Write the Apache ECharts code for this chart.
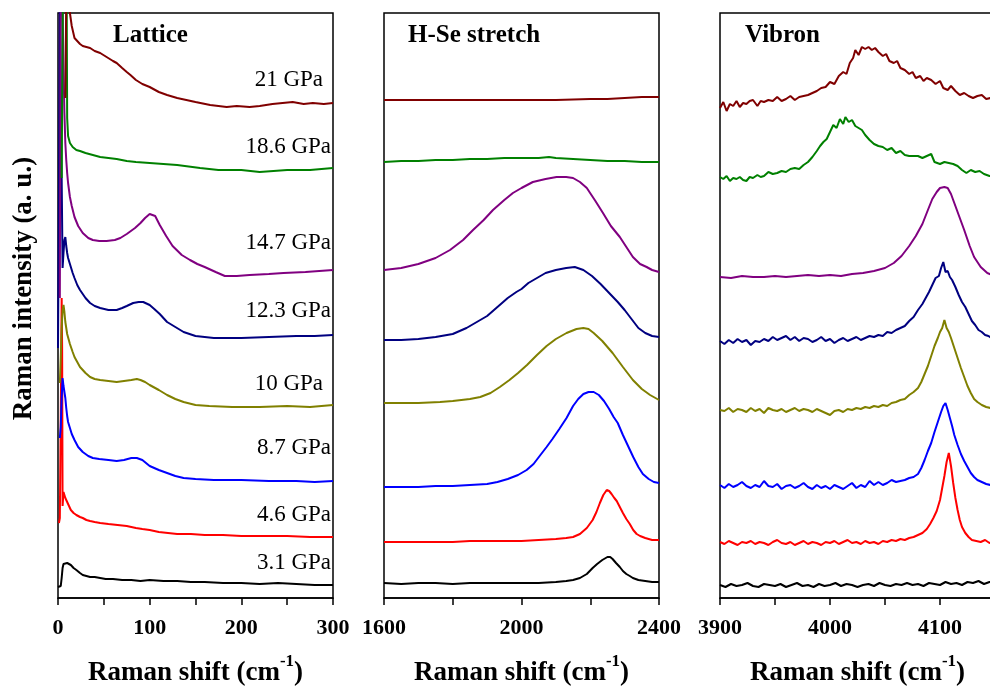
<!DOCTYPE html>
<html>
<head>
<meta charset="utf-8">
<script src="https://cdn.jsdelivr.net/npm/echarts@6/dist/echarts.min.js"></script>
<style>
  html, body { margin: 0; padding: 0; background: #fff; }
  #chart { width: 990px; height: 688px; }
</style>
</head>
<body>
<div id="chart"></div>
<script>
// Pressure steps, bottom to top, and their trace colours
const pressures = ['3.1 GPa', '4.6 GPa', '8.7 GPa', '10 GPa', '12.3 GPa', '14.7 GPa', '18.6 GPa', '21 GPa'];
const traceColors = ['#000000', '#ff0000', '#0000ff', '#808000', '#000080', '#800080', '#008000', '#800000'];
const panelTitles = ['Lattice', 'H-Se stretch', 'Vibron'];

// Labelled ticks on each Raman shift axis
const latticeTickLabels = [0, 100, 200, 300];
const stretchTickLabels = [1600, 2000, 2400];
const vibronTickLabels = [3900, 4000, 4100];

// ---- Lattice region (0-300 cm-1), stacked intensities ----
const lat31 = [[0,11],[2,11],[3,12],[4,20],[5,30],[6,34],[7,35],[8,36],[10,35],[12,34],[14,33],[17,30],[20,28],[24,25],[27,23],[31,22],[35,21],[40,21],[46,20],[52,19],[60,19],[70,18],[80,18],[90,17],[100,18],[115,17],[130,17],[145,16],[160,16],[180,15],[200,15],[220,14],[240,15],[260,14],[280,13],[300,13]];
const lat46 = [[1,75],[2,80],[3,180],[4,300],[4.5,250],[5,92],[6,106],[7,104],[8,100],[10,96],[12,92],[14,88],[17,85],[20,83],[24,81],[27,80],[31,78],[35,77],[40,76],[46,75],[55,74],[65,73],[75,72],[85,70],[92,69],[100,68],[110,66],[120,65],[130,64],[145,64],[160,63],[180,63],[200,62],[220,62],[250,62],[275,61],[300,61]];
const lat87 = [[2,160],[3,171],[4,200],[5,220],[6,212],[7,206],[8,200],[9,190],[10,182],[11,176],[13,170],[15,164],[18,158],[22,151],[27,146],[33,142],[38,140],[45,139],[55,138],[64,137],[72,138],[80,140],[86,140],[92,138],[100,132],[110,128],[119,125],[128,122],[137,120],[150,119],[170,118],[200,118],[230,117],[260,117],[280,116],[300,117]];
const lat10 = [[2,215],[3,240],[4,270],[5,288],[6,293],[7,286],[8,276],[10,264],[13,254],[16,246],[18,241],[21,236],[24,231],[30,225],[35,221],[40,219],[46,218],[55,217],[64,216],[72,217],[80,218],[86,219],[90,218],[95,216],[100,213],[110,208],[119,203],[128,199],[137,196],[150,193],[165,192],[190,191],[220,191],[250,192],[275,191],[300,193]];
const lat123 = [[0,250],[1,400],[2,620],[3,620],[4,420],[5,330],[6,345],[7,358],[8,361],[9,352],[10,345],[11,340],[13,334],[16,325],[18,320],[21,313],[24,308],[30,300],[35,295],[40,292],[46,290],[55,288],[64,288],[70,290],[75,292],[82,295],[88,296],[93,296],[100,293],[105,289],[111,284],[119,276],[128,271],[137,266],[150,262],[170,260],[200,260],[230,261],[260,262],[280,262],[300,263]];
const lat147 = [[2,300],[3,620],[4,620],[5,590],[6,530],[7,485],[8,455],[9,438],[10,425],[11,415],[13,401],[15,392],[18,381],[22,372],[27,365],[33,360],[38,358],[45,357],[53,357],[62,358],[68,360],[75,364],[84,370],[90,375],[95,380],[100,384],[102,385],[106,382],[111,373],[118,362],[125,352],[135,343],[144,338],[152,334],[160,331],[172,326],[182,322],[195,322],[209,323],[230,324],[246,325],[270,326],[300,328]];
const lat186 = [[4,420],[6,700],[9,700],[10,480],[11,462],[13,455],[16,451],[20,448],[24,447],[30,445],[38,443],[46,441],[55,440],[64,439],[75,437],[85,436],[100,435],[115,434],[130,433],[155,430],[175,428],[200,428],[220,426],[235,427],[250,428],[275,428],[300,430]];
const lat21 = [[8,500],[10,700],[13,585],[15,572],[18,560],[20,558],[24,554],[27,552],[31,551],[35,550],[40,547],[46,545],[53,541],[60,537],[64,535],[70,530],[75,526],[79,523],[85,518],[92,514],[100,511],[110,506],[119,503],[130,500],[140,498],[150,496],[166,493],[175,492],[184,491],[195,492],[209,491],[220,492],[234,494],[245,495],[256,496],[268,494],[278,495],[290,494],[300,495]];

// ---- H-Se stretching region (1600-2400 cm-1) ----
const hse31 = [[1600,15],[1650,14],[1700,15],[1750,15],[1800,14],[1850,15],[1900,15],[1950,15],[2000,15],[2050,15],[2100,16],[2130,17],[2150,18],[2170,20],[2190,24],[2207,30],[2220,34],[2235,38],[2250,41],[2258,41],[2265,39],[2275,35],[2286,31],[2295,27],[2305,24],[2315,22],[2324,20],[2340,18],[2360,17],[2380,16],[2400,16]];
const hse46 = [[1600,56],[1650,56],[1700,56],[1750,56],[1800,56],[1850,57],[1900,57],[1950,57],[2000,57],[2050,58],[2100,59],[2130,60],[2150,61],[2170,64],[2190,70],[2207,78],[2218,86],[2228,95],[2238,103],[2248,108],[2255,107],[2262,104],[2270,100],[2277,97],[2286,91],[2295,85],[2305,79],[2315,74],[2325,68],[2335,64],[2345,62],[2360,60],[2380,58],[2400,58]];
const hse87 = [[1600,111],[1650,111],[1700,111],[1750,112],[1800,112],[1850,113],[1900,114],[1930,116],[1960,119],[1990,123],[2015,128],[2035,134],[2055,143],[2073,151],[2090,159],[2110,169],[2131,180],[2150,192],[2165,199],[2180,204],[2195,206],[2210,206],[2225,203],[2240,197],[2255,189],[2268,181],[2280,175],[2295,163],[2310,152],[2325,141],[2340,131],[2353,124],[2370,119],[2385,116],[2400,115]];
const hse10 = [[1600,195],[1650,195],[1700,195],[1763,196],[1800,197],[1850,199],[1880,201],[1910,205],[1937,211],[1965,218],[1990,225],[2016,233],[2045,243],[2073,252],[2100,259],[2131,265],[2160,269],[2180,270],[2195,269],[2210,265],[2235,257],[2265,245],[2295,231],[2324,218],[2350,209],[2374,203],[2400,198]];
const hse123 = [[1600,258],[1650,258],[1700,259],[1750,261],[1800,264],[1840,270],[1870,276],[1900,282],[1930,291],[1960,300],[1985,306],[2000,309],[2020,315],[2045,320],[2070,325],[2100,328],[2130,330],[2155,331],[2180,328],[2205,322],[2230,314],[2255,305],[2280,296],[2300,288],[2320,279],[2340,270],[2360,265],[2380,262],[2400,261]];
const hse147 = [[1600,328],[1650,330],[1700,334],[1750,340],[1792,348],[1830,358],[1859,368],[1890,378],[1917,388],[1950,398],[1975,405],[2000,410],[2033,416],[2070,419],[2102,421],[2130,421],[2150,420],[2170,416],[2190,410],[2215,397],[2237,385],[2260,372],[2286,361],[2305,351],[2324,341],[2345,334],[2364,331],[2380,328],[2400,326]];
const hse186 = [[1600,436],[1650,437],[1700,437],[1750,438],[1800,438],[1850,439],[1900,439],[1950,440],[2000,440],[2050,440],[2080,441],[2100,440],[2150,439],[2200,438],[2250,437],[2300,437],[2350,436],[2400,436]];
const hse21 = [[1600,498],[1700,498],[1800,498],[1900,498],[2000,498],[2100,498],[2200,499],[2250,499],[2300,500],[2350,501],[2400,501]];

// ---- H2 vibron region (3900-4150 cm-1) ----
const vib31 = [[3900,13],[3905,11],[3910,14],[3915,12],[3920,13],[3925,15],[3930,12],[3935,11],[3940,14],[3945,13],[3950,12],[3955,14],[3960,11],[3965,13],[3970,15],[3975,12],[3980,13],[3985,11],[3990,14],[3995,12],[4000,13],[4005,15],[4010,12],[4015,14],[4020,13],[4025,11],[4030,13],[4035,14],[4040,12],[4045,15],[4050,13],[4055,12],[4060,14],[4065,13],[4070,15],[4075,13],[4080,14],[4085,12],[4090,15],[4095,14],[4100,13],[4105,16],[4110,14],[4115,15],[4120,13],[4125,16],[4130,15],[4135,17],[4140,14],[4145,16],[4150,15]];
const vib46 = [[3900,56],[3904,54],[3908,57],[3912,55],[3916,53],[3920,56],[3924,55],[3928,57],[3932,54],[3936,56],[3940,55],[3944,53],[3948,56],[3952,58],[3956,55],[3960,54],[3964,56],[3968,53],[3972,55],[3976,57],[3980,54],[3984,56],[3988,55],[3992,53],[3996,56],[4000,55],[4004,57],[4008,54],[4012,56],[4016,58],[4020,55],[4024,56],[4028,54],[4032,57],[4036,55],[4040,56],[4044,54],[4048,57],[4052,56],[4056,58],[4060,57],[4064,59],[4068,58],[4072,60],[4076,61],[4080,63],[4084,65],[4088,69],[4091,74],[4094,80],[4097,87],[4100,98],[4102,110],[4104,122],[4106,136],[4108,145],[4110,132],[4112,115],[4114,100],[4116,88],[4118,78],[4120,71],[4123,65],[4126,61],[4129,58],[4133,57],[4137,56],[4141,58],[4145,55],[4150,57]];
const vib87 = [[3900,113],[3904,110],[3908,114],[3912,111],[3916,113],[3920,116],[3924,112],[3928,110],[3932,113],[3936,111],[3940,117],[3944,112],[3948,111],[3952,114],[3956,109],[3960,112],[3964,113],[3968,110],[3972,112],[3976,115],[3980,111],[3984,109],[3988,113],[3992,110],[3996,112],[4000,109],[4004,113],[4008,111],[4012,109],[4016,112],[4020,115],[4024,110],[4028,113],[4032,111],[4036,117],[4040,113],[4044,116],[4048,113],[4052,115],[4056,118],[4060,116],[4064,117],[4068,118],[4072,120],[4076,121],[4080,124],[4083,130],[4086,138],[4089,147],[4092,155],[4095,166],[4098,176],[4101,186],[4103,192],[4105,195],[4107,188],[4109,180],[4111,172],[4113,163],[4116,153],[4119,144],[4122,137],[4125,131],[4128,125],[4131,121],[4134,118],[4138,116],[4142,114],[4146,113],[4150,112]];
const vib10 = [[3900,188],[3904,187],[3908,190],[3912,186],[3916,189],[3920,188],[3924,186],[3928,190],[3932,187],[3936,189],[3940,185],[3944,190],[3948,188],[3952,187],[3956,189],[3960,186],[3964,188],[3968,190],[3972,187],[3976,189],[3980,188],[3984,186],[3988,189],[3992,187],[3996,185],[4000,183],[4004,187],[4008,188],[4012,186],[4016,189],[4020,188],[4024,190],[4028,189],[4032,191],[4036,190],[4040,192],[4044,191],[4048,193],[4052,192],[4056,195],[4060,196],[4064,198],[4068,199],[4072,203],[4076,206],[4080,210],[4083,216],[4086,224],[4089,232],[4092,242],[4095,252],[4098,260],[4100,266],[4102,270],[4104,278],[4106,270],[4108,266],[4110,260],[4113,250],[4116,240],[4119,230],[4122,221],[4125,212],[4128,205],[4131,199],[4134,196],[4138,193],[4142,191],[4146,190],[4150,189]];
const vib123 = [[3900,257],[3904,254],[3908,258],[3912,255],[3916,259],[3920,256],[3924,258],[3928,253],[3932,257],[3936,256],[3940,259],[3944,257],[3948,261],[3952,258],[3956,260],[3960,262],[3964,258],[3968,261],[3972,257],[3976,260],[3980,259],[3984,256],[3988,258],[3992,261],[3996,257],[4000,259],[4004,255],[4008,258],[4012,260],[4016,257],[4020,259],[4024,261],[4028,258],[4032,260],[4036,262],[4040,261],[4044,263],[4048,262],[4052,266],[4056,265],[4060,268],[4064,270],[4068,272],[4072,277],[4076,281],[4080,288],[4084,294],[4087,300],[4090,306],[4093,313],[4096,320],[4099,322],[4101,330],[4103,336],[4105,326],[4107,327],[4109,321],[4111,318],[4114,311],[4117,303],[4120,296],[4123,291],[4126,284],[4129,277],[4132,273],[4135,268],[4138,266],[4141,263],[4144,262],[4147,260],[4150,261]];
const vib147 = [[3900,321],[3910,320],[3920,322],[3930,321],[3940,321],[3950,322],[3960,321],[3970,322],[3980,323],[3990,322],[4000,323],[4010,322],[4020,324],[4030,325],[4040,327],[4050,330],[4058,335],[4065,342],[4072,352],[4078,362],[4084,374],[4089,388],[4093,399],[4097,406],[4100,410],[4104,411],[4107,410],[4110,404],[4113,395],[4117,383],[4122,368],[4127,352],[4131,341],[4137,331],[4143,325],[4150,322]];
const vib186 = [[3900,421],[3903,419],[3906,422],[3909,417],[3912,420],[3915,419],[3918,421],[3921,418],[3924,417],[3927,421],[3930,420],[3934,423],[3937,421],[3940,422],[3944,426],[3948,424],[3952,425],[3956,427],[3960,426],[3964,429],[3968,430],[3972,429],[3976,433],[3980,436],[3984,441],[3988,447],[3991,452],[3994,456],[3997,459],[4000,466],[4003,473],[4006,470],[4009,479],[4012,474],[4014,481],[4017,476],[4020,478],[4023,472],[4026,470],[4029,468],[4032,463],[4036,458],[4040,454],[4044,452],[4048,451],[4052,448],[4056,450],[4060,445],[4064,447],[4068,443],[4072,442],[4076,442],[4080,442],[4084,440],[4088,442],[4092,444],[4095,436],[4100,434],[4104,436],[4108,435],[4112,434],[4116,432],[4120,428],[4124,425],[4128,428],[4132,426],[4136,427],[4140,424],[4145,422],[4150,421]];
const vib21 = [[3900,490],[3903,496],[3906,487],[3909,494],[3912,492],[3915,497],[3918,491],[3921,495],[3924,494],[3927,497],[3930,498],[3934,492],[3937,497],[3940,496],[3944,498],[3948,497],[3952,501],[3956,497],[3960,499],[3964,502],[3968,498],[3972,501],[3976,502],[3980,503],[3984,505],[3988,507],[3992,510],[3996,511],[4000,516],[4004,514],[4008,522],[4012,526],[4015,524],[4018,535],[4021,540],[4023,548],[4026,543],[4029,551],[4032,549],[4035,551],[4038,548],[4041,550],[4044,546],[4048,542],[4051,544],[4054,537],[4058,535],[4061,537],[4064,530],[4068,528],[4072,524],[4075,526],[4078,520],[4082,522],[4085,517],[4088,520],[4092,518],[4096,514],[4100,517],[4103,510],[4107,508],[4110,512],[4114,507],[4118,503],[4122,505],[4126,502],[4130,500],[4134,502],[4138,503],[4142,499],[4146,500],[4150,498]];

const panelData = [
  [lat31, lat46, lat87, lat10, lat123, lat147, lat186, lat21],
  [hse31, hse46, hse87, hse10, hse123, hse147, hse186, hse21],
  [vib31, vib46, vib87, vib10, vib123, vib147, vib186, vib21]
];

// ---- layout ----
const SERIF = '"Liberation Serif", "Times New Roman", serif';
const panels = [
  { left: 58,  min: 0,    max: 300,  interval: 50,  labels: latticeTickLabels, titleX: 113 },
  { left: 384, min: 1600, max: 2400, interval: 200, labels: stretchTickLabels, titleX: 408 },
  { left: 720, min: 3900, max: 4150, interval: 50,  labels: vibronTickLabels,  titleX: 745 }
];
const plotTop = 13, plotWidth = 275, plotHeight = 585;
const yMax = 585;
// right edge and vertical centre of each pressure label (lattice panel)
const pressureLabelRight = [331, 331, 331, 323, 331, 331, 331, 323];
const pressureLabelY = [563, 515, 448, 384, 311, 243, 147, 80];

const axisTitle = '{t|Raman shift (cm}{s|-1}{t|)}';
const axisTitleRich = {
  t: { fontFamily: SERIF, fontWeight: 'bold', fontSize: 27, color: '#000', lineHeight: 40 },
  s: { fontFamily: SERIF, fontWeight: 'bold', fontSize: 17, color: '#000', lineHeight: 12, verticalAlign: 'top' }
};

const grids = panels.map(p => ({
  left: p.left, top: plotTop, width: plotWidth, height: plotHeight,
  show: true, borderColor: '#000', borderWidth: 1.5, backgroundColor: 'transparent',
  containLabel: false, outerBoundsMode: 'none'
}));

const xAxes = panels.map((p, i) => ({
  type: 'value', gridIndex: i, min: p.min, max: p.max, interval: p.interval,
  axisLine: { show: true, onZero: false, lineStyle: { color: '#000', width: 1.5 } },
  axisTick: { show: true, length: 7, lineStyle: { color: '#000', width: 1.5 } },
  axisLabel: {
    formatter: v => (p.labels.indexOf(v) >= 0 ? String(v) : ''),
    fontFamily: SERIF, fontWeight: 'bold', fontSize: 22, color: '#000', margin: 19,
    showMinLabel: true, showMaxLabel: true
  },
  splitLine: { show: false },
  name: axisTitle, nameLocation: 'middle', nameGap: 55,
  nameTextStyle: { rich: axisTitleRich }
}));

const yAxes = panels.map((p, i) => ({
  type: 'value', gridIndex: i, min: 0, max: yMax,
  axisLine: { show: false }, axisTick: { show: false }, axisLabel: { show: false },
  splitLine: { show: false },
  name: i === 0 ? 'Raman intensity (a. u.)' : '',
  nameLocation: 'middle', nameGap: 20,
  nameTextStyle: {
    fontFamily: SERIF, fontWeight: 'bold', fontSize: 27, color: '#000',
    padding: [0, 0, 0, 34]
  }
}));

const series = [];
panelData.forEach((traces, pi) => {
  traces.forEach((pts, ti) => {
    series.push({
      type: 'line', xAxisIndex: pi, yAxisIndex: pi, data: pts,
      showSymbol: false, symbol: 'none', clip: true, silent: true,
      lineStyle: { color: traceColors[ti], width: 2 },
      z: 2 + ti
    });
  });
});

const graphics = [];
panels.forEach((p, i) => {
  graphics.push({
    type: 'text', left: p.titleX, top: 23, z: 100,
    style: { text: panelTitles[i], font: 'bold 25px ' + SERIF, fill: '#000' }
  });
});
pressures.forEach((label, k) => {
  graphics.push({
    type: 'text', x: pressureLabelRight[k], y: pressureLabelY[k], z: 100,
    style: { text: label, font: '23px ' + SERIF, fill: '#000', align: 'right', verticalAlign: 'middle' }
  });
});

const chart = echarts.init(document.getElementById('chart'), null, { renderer: 'canvas' });
chart.setOption({
  animation: false,
  backgroundColor: '#fff',
  grid: grids,
  xAxis: xAxes,
  yAxis: yAxes,
  series: series,
  graphic: graphics
});
</script>
</body>
</html>
